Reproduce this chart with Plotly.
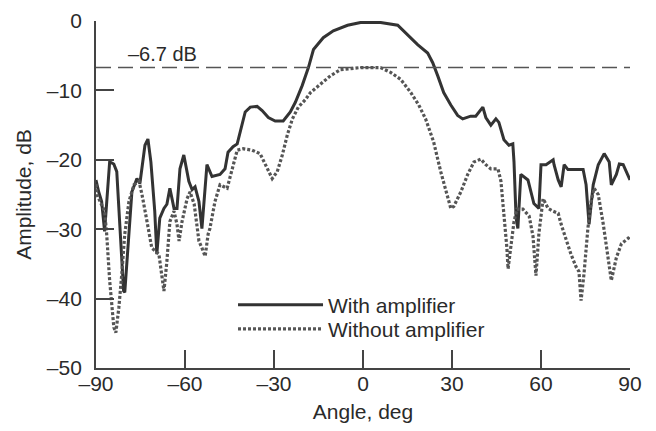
import plotly.graph_objects as go

# %%
# values (angle in deg, amplitude in dB)
angle_with = [-90, -89.1, -88.1, -87.1, -85.4, -84.0, -83.0, -80.7, -80.3, -79.0,
              -77.9, -76.2, -75.2, -73.5, -72.5, -71.5, -70.2, -69.5, -68.5, -67.1,
              -66.1, -65.1, -63.7, -62.7, -61.7, -60.4, -58.7, -57.6, -56.6, -55.3,
              -54.3, -52.6, -50.9, -48.2, -46.5, -45.5, -43.8, -42.4, -41.4, -39.7,
              -38.0, -35.7, -34.0, -31.9, -29.6, -26.9, -24.5, -22.8, -20.5, -18.4,
              -16.7, -13.4, -10.0, -5.2, -0.8, 5.9, 11.7, 15.1, 18.4, 21.8,
              23.5, 25.2, 27.2, 29.6, 31.9, 33.6, 36.3, 38.0, 40.4, 41.4,
              43.1, 44.8, 45.8, 47.5, 49.2, 50.5, 50.9, 51.6, 52.2, 53.2,
              55.6, 57.6, 59.3, 60.0, 61.7, 64.1, 64.4, 65.8, 66.8, 67.8,
              69.1, 74.2, 75.2, 76.2, 77.6, 79.3, 81.3, 83.0, 83.7, 85.4,
              86.4, 87.7, 89.4, 90]
amp_with = [-22.9, -24.6, -26.0, -30.3, -20.3, -20.6, -21.7, -38.9, -39.1, -30.7,
            -24.6, -22.7, -23.4, -17.9, -17.0, -20.3, -27.4, -33.6, -28.4, -27.0,
            -26.4, -24.1, -27.0, -27.0, -21.3, -19.3, -23.1, -24.3, -23.9, -26.0,
            -29.9, -20.7, -22.4, -22.1, -21.3, -18.9, -18.1, -17.7, -16.0, -13.1,
            -12.4, -12.3, -12.9, -13.9, -14.4, -14.4, -13.1, -11.7, -9.3, -6.7,
            -4.1, -2.4, -1.4, -0.6, -0.2, -0.2, -0.6, -2.0, -3.4, -4.6,
            -6.0, -7.9, -10.3, -12.1, -13.6, -14.1, -13.7, -13.7, -12.4, -13.9,
            -15.0, -14.1, -14.6, -17.1, -17.9, -17.7, -20.3, -28.4, -29.9, -22.1,
            -22.9, -26.3, -27.0, -20.7, -20.7, -20.0, -20.7, -22.9, -23.9, -20.7,
            -21.4, -21.4, -23.6, -29.3, -23.6, -20.7, -19.1, -20.3, -23.6, -22.1,
            -20.6, -20.7, -22.4, -22.9]

angle_without = [-90, -89.7, -87.1, -86.4, -85.4, -84.0, -83.3, -82.3, -81.3, -80.3,
                 -78.9, -77.2, -75.5, -74.5, -72.8, -71.2, -68.8, -67.8, -67.1, -66.1,
                 -65.1, -63.7, -62.7, -62.0, -61.0, -59.3, -58.3, -56.9, -55.3, -54.3,
                 -53.2, -52.2, -51.6, -49.9, -48.2, -45.8, -44.1, -42.4, -40.4, -37.4,
                 -34.7, -33.0, -30.6, -28.9, -27.2, -25.5, -23.8, -21.8, -19.4, -17.7,
                 -14.4, -11.0, -7.6, -4.2, -0.8, 2.5, 5.9, 9.3, 12.7, 16.1,
                 18.8, 21.1, 22.8, 23.8, 26.2, 28.6, 29.6, 30.6, 33.0, 35.3,
                 37.4, 39.7, 41.4, 43.1, 45.5, 46.5, 47.5, 48.5, 48.9, 49.9,
                 50.9, 51.9, 53.9, 56.0, 57.3, 58.3, 59.3, 60.7, 62.4, 64.1,
                 65.8, 66.8, 68.5, 70.1, 71.8, 72.8, 73.5, 74.5, 75.8, 76.9,
                 77.9, 79.3, 81.0, 82.7, 83.7, 85.4, 87.1, 89.4, 90]
amp_without = [-23.5, -25.0, -27.4, -30.7, -37.4, -44.1, -44.9, -41.3, -36.4, -30.7,
               -26.0, -23.6, -23.1, -25.0, -28.9, -32.7, -33.6, -36.4, -38.9, -34.6,
               -28.9, -27.4, -29.3, -31.7, -28.9, -25.6, -24.6, -26.4, -31.7, -32.7,
               -33.9, -30.7, -29.9, -26.0, -23.6, -24.1, -21.3, -18.6, -18.4, -18.6,
               -19.1, -20.7, -22.7, -21.7, -19.3, -16.4, -14.1, -12.4, -11.3, -10.3,
               -9.1, -7.9, -7.0, -6.8, -6.7, -6.7, -6.7, -7.4, -8.4, -10.3,
               -12.1, -14.1, -16.0, -17.4, -21.7, -25.6, -27.0, -26.7, -24.6, -22.1,
               -20.3, -19.9, -20.7, -21.3, -21.3, -23.1, -27.4, -32.7, -35.7, -32.1,
               -28.9, -27.1, -27.1, -28.1, -31.0, -36.7, -30.6, -25.6, -27.0, -27.4,
               -27.7, -29.3, -31.7, -33.6, -35.4, -36.1, -40.3, -36.4, -29.9, -26.0,
               -24.1, -25.0, -29.3, -34.1, -37.4, -34.1, -32.1, -31.3, -31.0]

ref_level = -6.7
x_ticks = [-90, -60, -30, 0, 30, 60, 90]
y_ticks = [-50, -40, -30, -20, -10, 0]

# %%
fig = go.Figure()
fig.add_trace(go.Scatter(x=angle_with, y=amp_with, mode='lines', name='With amplifier',
                         line=dict(color='#333333', width=3), legend='legend'))
fig.add_trace(go.Scatter(x=angle_without, y=amp_without, mode='lines', name='Without amplifier',
                         line=dict(color='#555555', width=3.2, dash='3px,2px'), legend='legend2'))

# reference level line + its label
fig.add_hline(y=ref_level, line=dict(color='#555555', width=1.6, dash='15px,7px'))
fig.add_annotation(x=-80, y=ref_level, text='–6.7 dB', showarrow=False,
                   xanchor='left', yanchor='bottom', yshift=1,
                   font=dict(size=20, color='#2a2a2a'))

axis_style = dict(showline=True, linecolor='#444', linewidth=1.8, mirror=False,
                  ticks='inside', ticklen=18, tickwidth=1.6, tickcolor='#444',
                  showgrid=False, zeroline=False, automargin=False,
                  ticklabeloverflow='allow',
                  tickfont=dict(size=21, color='#2a2a2a'))

fig.update_xaxes(range=[-90, 90], tickvals=x_ticks, ticktext=[str(v).replace('-', '–') for v in x_ticks],
                 ticklabelstandoff=-4,
                 title=dict(text='Angle, deg', font=dict(size=21, color='#2a2a2a'), standoff=15),
                 **axis_style)
fig.update_yaxes(range=[-50, 0.01], tickvals=y_ticks, ticktext=[str(v).replace('-', '–') for v in y_ticks],
                 ticklabelstandoff=8,
                 title=dict(text='Amplitude, dB', font=dict(size=21, color='#2a2a2a'), standoff=10),
                 **axis_style)

# the page adds an 8px body margin, so the figure is 16px smaller than the window
leg_style = dict(xanchor='left', yanchor='top', bgcolor='rgba(0,0,0,0)',
                 font=dict(size=21, color='#2a2a2a'), itemwidth=85)
fig.update_layout(
    width=640, height=415,
    margin=dict(l=88, r=18, t=13, b=55),
    plot_bgcolor='white', paper_bgcolor='white',
    font=dict(family='Liberation Sans, Arial, sans-serif', color='#2a2a2a'),
    showlegend=True,
    legend=dict(x=0.2566, y=0.24, **leg_style),
    legend2=dict(x=0.2566, y=0.171, **leg_style),
)

fig.write_html("out.html")
